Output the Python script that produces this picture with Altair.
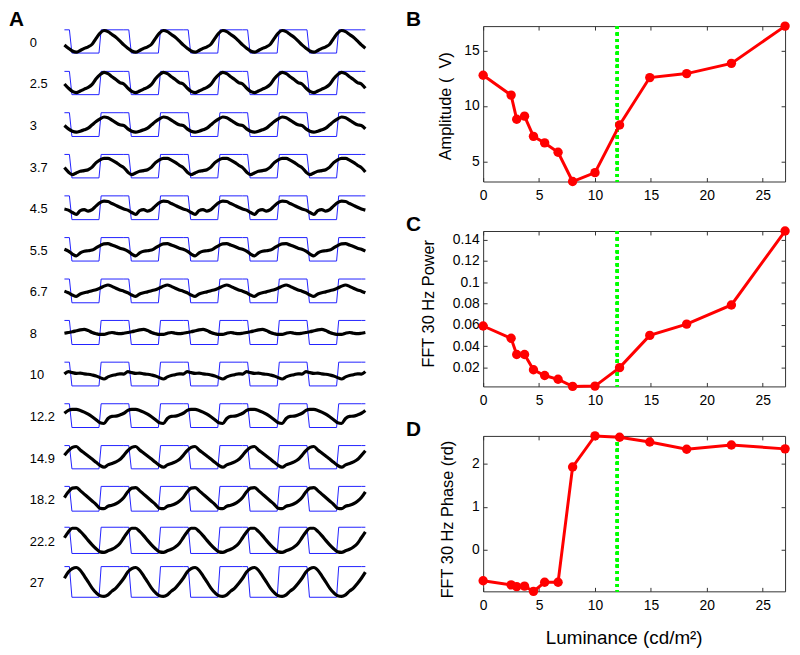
import altair as alt
import pandas as pd

FONT = "Liberation Sans, Arial, Helvetica, sans-serif"

# ---------------- Panel A data ----------------
row_labels = ["0", "2.5", "3", "3.7", "4.5", "5.5", "6.7", "8", "10",
              "12.2", "14.9", "18.2", "22.2", "27"]

# one stimulus cycle of each averaged response, normalised to the stimulus
# (0 = dark phase level, 1 = bright phase level), 15 samples per cycle
resp_0 = [0.35, 0.21, 0.09, 0.04, 0.11, 0.20, 0.27, 0.38, 0.63, 0.86, 0.97, 0.92, 0.80, 0.68, 0.52]
resp_2_5 = [0.46, 0.28, 0.14, 0.085, 0.155, 0.24, 0.31, 0.44, 0.68, 0.86, 0.96, 0.90, 0.77, 0.65, 0.52]
resp_3 = [0.46, 0.32, 0.22, 0.18, 0.22, 0.28, 0.35, 0.49, 0.63, 0.74, 0.82, 0.79, 0.69, 0.58, 0.49]
resp_3_7 = [0.44, 0.25, 0.14, 0.21, 0.28, 0.31, 0.35, 0.46, 0.65, 0.77, 0.83, 0.83, 0.76, 0.66, 0.54]
resp_4_5 = [0.45, 0.40, 0.30, 0.22, 0.38, 0.42, 0.36, 0.42, 0.58, 0.72, 0.78, 0.76, 0.68, 0.60, 0.52]
resp_5_5 = [0.50, 0.42, 0.30, 0.22, 0.35, 0.42, 0.44, 0.47, 0.56, 0.66, 0.73, 0.74, 0.68, 0.62, 0.55]
resp_6_7 = [0.49, 0.42, 0.33, 0.27, 0.37, 0.42, 0.46, 0.51, 0.55, 0.62, 0.70, 0.75, 0.69, 0.61, 0.54]
resp_8 = [0.47, 0.50, 0.53, 0.57, 0.61, 0.63, 0.58, 0.50, 0.45, 0.42, 0.42, 0.47, 0.50, 0.47, 0.45]
resp_10 = [0.50, 0.60, 0.56, 0.53, 0.54, 0.51, 0.49, 0.46, 0.42, 0.35, 0.29, 0.38, 0.44, 0.47, 0.51]
resp_12_2 = [0.60, 0.72, 0.76, 0.76, 0.72, 0.65, 0.56, 0.45, 0.33, 0.20, 0.17, 0.38, 0.47, 0.48, 0.53]
resp_14_9 = [0.58, 0.78, 0.92, 0.96, 0.81, 0.68, 0.55, 0.42, 0.28, 0.15, 0.07, 0.17, 0.23, 0.30, 0.40]
resp_18_2 = [0.55, 0.78, 0.93, 0.95, 0.83, 0.69, 0.55, 0.41, 0.27, 0.12, 0.10, 0.20, 0.24, 0.30, 0.40]
resp_22_2 = [0.60, 0.82, 0.96, 0.96, 0.84, 0.68, 0.50, 0.33, 0.18, 0.06, 0.04, 0.10, 0.16, 0.25, 0.38]
resp_27 = [0.62, 0.82, 0.93, 0.97, 0.88, 0.70, 0.50, 0.30, 0.15, 0.05, 0.03, 0.08, 0.20, 0.30, 0.45]
responses = [resp_0, resp_2_5, resp_3, resp_3_7, resp_4_5, resp_5_5, resp_6_7, resp_8,
             resp_10, resp_12_2, resp_14_9, resp_18_2, resp_22_2, resp_27]

stim_period_ms = 1000 / 30          # 30 Hz flicker
samples_per_cycle = 15
n_samples = 77
stim_phase_ms = [0.0, 2.8, 4.2, 19.4, 20.6]   # breakpoints of one stimulus cycle
stim_level = [1, 1, 0, 0, 1]

# ---------------- Panels B-D data ----------------
luminance = [0, 2.5, 3, 3.7, 4.5, 5.5, 6.7, 8, 10, 12.2, 14.9, 18.2, 22.2, 27]
amplitude = [12.77, 10.98, 8.8, 9.08, 7.26, 6.67, 5.83, 3.19, 3.99, 8.28, 12.56, 12.92, 13.84, 17.2]
power30 = [0.059, 0.0475, 0.0323, 0.0323, 0.018, 0.0126, 0.0091, 0.0024, 0.0027, 0.020,
           0.0502, 0.0608, 0.0787, 0.148]
phase30 = [-0.716, -0.81, -0.85, -0.84, -0.96, -0.75, -0.75, 1.92, 2.64, 2.61, 2.50, 2.33, 2.43, 2.34]
critical_lum = 12
x_ticks = [0, 5, 10, 15, 20, 25]

# ---------------- layout (pixels) ----------------
ROW_W = 304
ROW_H = 41.5
TRACE_CENTER = 15.5
row_amp_px = [23.5, 23.5, 24, 23.7, 24, 23.7, 24, 24.3, 24, 24, 23.5, 25, 26.5, 31]
PANEL_W = 305
PANEL_H = 157


def letter(txt, dx):
    return alt.Chart(alt.Data(values=[{}])).mark_text(
        text=txt, font=FONT, fontSize=21, fontWeight="bold",
        align="left", baseline="alphabetic", color="black"
    ).encode(x=alt.value(dx), y=alt.value(0))


dt = stim_period_ms / samples_per_cycle
t_end = (n_samples - 1) * dt

rows = []
for i, (lab, cyc) in enumerate(zip(row_labels, responses)):
    tr = pd.DataFrame({"t": [k * dt for k in range(n_samples)],
                       "v": [cyc[k % samples_per_cycle] for k in range(n_samples)]})
    st_t, st_v = [], []
    c = 0
    while c * stim_period_ms < t_end:
        for ph, lv in zip(stim_phase_ms, stim_level):
            tt = c * stim_period_ms + ph
            if tt < t_end:
                st_t.append(tt)
                st_v.append(lv)
        c += 1
    st_t.append(t_end)
    st_v.append(st_v[-1])
    st = pd.DataFrame({"t": st_t, "v": st_v})

    h = row_amp_px[i]
    hi = 0.5 + TRACE_CENTER / h
    lo = 0.5 - (ROW_H - TRACE_CENTER) / h
    xs = alt.Scale(domain=[0, t_end], nice=False, zero=False)
    ys = alt.Scale(domain=[lo, hi], nice=False, zero=False)

    stim = alt.Chart(st).mark_line(color="#2020ff", strokeWidth=1).encode(
        x=alt.X("t:Q", scale=xs, axis=None), y=alt.Y("v:Q", scale=ys, axis=None))
    resp = alt.Chart(tr).mark_line(color="black", strokeWidth=3.2, interpolate="monotone").encode(
        x=alt.X("t:Q", scale=xs, axis=None), y=alt.Y("v:Q", scale=ys, axis=None))
    label = alt.Chart(alt.Data(values=[{}])).mark_text(
        text=lab, font=FONT, fontSize=13, align="left", baseline="middle", color="black"
    ).encode(x=alt.value(-35), y=alt.value(TRACE_CENTER + 1.5))
    layers = [stim, resp, label]
    if i == 0:
        layers.append(letter("A", -56))
    rows.append(alt.layer(*layers).properties(
        width=ROW_W, height=ROW_H, view=alt.ViewBackground(stroke="transparent")))

left = alt.vconcat(*rows, spacing=0, bounds="flush")


def panel(yvals, ytitle, yticks, let, tx, ty, xtitle=None):
    df = pd.DataFrame({"lum": luminance, "val": yvals})
    xs = alt.Scale(domain=[0, 27], nice=False, zero=False)
    ys = alt.Scale(domain=[min(yvals), max(yvals)], nice=False, zero=False)

    rule = alt.Chart(df).mark_rule(color="#00ff00", strokeWidth=3, strokeDash=[3, 3.5]).encode(
        x=alt.XDatum(datum=critical_lum, scale=xs, axis=None))

    if xtitle:
        xaxis = alt.Axis(values=x_ticks, offset=-4, tickSize=4, labelPadding=7, labelFlush=False,
                         title=xtitle, titleFontSize=19, titleX=142, titleY=51,
                         titleAlign="center", titleBaseline="middle")
    else:
        xaxis = alt.Axis(values=x_ticks, offset=-4, tickSize=4, labelPadding=7, labelFlush=False,
                         title=None)
    yaxis = alt.Axis(values=yticks, format=".2~f", offset=-4, tickSize=4, labelPadding=4,
                     title=ytitle, titleX=tx, titleY=ty, titleAngle=270, titleFontSize=16.5,
                     titleAlign="center", titleBaseline="middle")

    line = alt.Chart(df).mark_line(
        color="#ff0000", strokeWidth=3,
        point=alt.OverlayMarkDef(color="#ff0000", filled=True, size=90, opacity=1)
    ).encode(x=alt.X("lum:Q", scale=xs, axis=xaxis),
             y=alt.Y("val:Q", scale=ys, axis=yaxis))

    mirror = alt.Chart(df).mark_line(opacity=0).encode(
        x=alt.X("lum:Q", scale=xs, axis=alt.Axis(orient="top", values=x_ticks, labels=False,
                                                 offset=-4, tickSize=4, title=None)),
        y=alt.Y("val:Q", scale=ys, axis=alt.Axis(orient="right", values=yticks, labels=False,
                                                 offset=-4, tickSize=4, title=None)))

    return alt.layer(rule, line, mirror, letter(let, -78)).resolve_axis(
        x="independent", y="independent").properties(width=PANEL_W, height=PANEL_H)


pB = panel(amplitude, "Amplitude (\u00a0\u00a0V)", [5, 10, 15], "B", -42, 80.5)
pC = panel(power30, "FFT 30 Hz Power", [0.02, 0.04, 0.06, 0.08, 0.1, 0.12, 0.14], "C", -59, 73)
pD = panel(phase30, "FFT 30 Hz Phase (rd)", [0, 1, 2], "D", -40, 84,
           xtitle="Luminance (cd/m\u00b2)")

right = alt.vconcat(pB, pC, pD, spacing=50, bounds="flush")

chart = alt.hconcat(left, right, spacing=33).properties(
    padding={"left": 0, "top": -3, "right": 0, "bottom": 0}
).configure(font=FONT).configure_view(
    stroke="#333333", strokeWidth=1
).configure_axis(
    labelFont=FONT, labelFontSize=14, labelColor="black",
    titleFont=FONT, titleFontSize=15, titleFontWeight="normal", titleColor="black",
    tickColor="#333333", domain=False, grid=False
)

chart.save("out.html", embed_options={"renderer": "svg", "actions": False})
